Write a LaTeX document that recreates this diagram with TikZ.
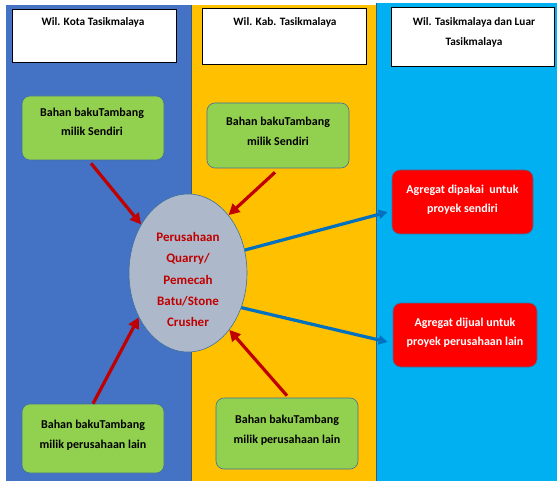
\documentclass[tikz,border=0pt]{standalone}
\usepackage{fontspec}
\setmainfont{Carlito}
\usetikzlibrary{shapes.geometric,arrows.meta,calc}
\definecolor{colblue}{HTML}{4472C4}
\definecolor{colyellow}{HTML}{FFC000}
\definecolor{colcyan}{HTML}{00B0F0}
\definecolor{boxgreen}{HTML}{92D050}
\definecolor{boxred}{HTML}{FF0000}
\definecolor{ellfill}{HTML}{ADB9CA}
\definecolor{darkred}{HTML}{C00000}
\definecolor{arrblue}{HTML}{0070C0}
\definecolor{edgeblue}{HTML}{41719C}
\tikzset{
  hdrbox/.style={draw=black,line width=0.8pt,fill=white,inner sep=0pt},
  hdrtext/.style={font=\bfseries\fontsize{11.3}{20}\selectfont,align=center,inner sep=0pt},
  gbox/.style={draw=edgeblue,line width=0.6pt,fill=boxgreen,rounded corners=8pt,inner sep=0pt},
  rbox/.style={draw=edgeblue,line width=0.6pt,fill=boxred,rounded corners=8pt,inner sep=0pt},
  btext/.style={font=\bfseries\fontsize{12}{19.5}\selectfont,align=center,inner sep=0pt},
  redarrow/.style={draw=darkred,line width=3.2pt,-{Triangle[length=11pt,width=11pt]}},
  bluearrow/.style={draw=arrblue,line width=3.2pt,-{Triangle[length=9pt,width=9pt]}},
}
\begin{document}
\begin{tikzpicture}[x=1pt,y=-1pt]
\useasboundingbox[fill=white] (0,0) rectangle (557,481);
% columns
\fill[colblue] (6,5) rectangle (191,481);
\fill[colyellow] (191,5) rectangle (376,481);
\fill[colcyan] (376,3) rectangle (557,481);
\draw[edgeblue!80!black,line width=0.5pt] (191,5) -- (191,481);
\draw[edgeblue!80!black,line width=0.5pt] (376,3) -- (376,481);
% headers
\node[hdrbox,minimum width=164pt,minimum height=53pt] (h1) at (94,35.5) {};
\node[hdrtext] (h1t) at (93,22) {Wil. Kota Tasikmalaya};
\node[hdrbox,minimum width=164pt,minimum height=56pt] (h2) at (284,36) {};
\node[hdrtext] (h2t) at (285,22) {Wil. Kab. Tasikmalaya};
\node[hdrbox,minimum width=163pt,minimum height=59pt] (h3) at (472.5,36.5) {};
\node[hdrtext] (h3t) at (474,32) {Wil. Tasikmalaya dan Luar\\Tasikmalaya};
% green boxes
\node[gbox,minimum width=142pt,minimum height=64pt] (g1) at (93,128) {};
\node[btext] (g1t) at (92,122) {Bahan bakuTambang\\milik Sendiri};
\node[gbox,minimum width=142pt,minimum height=65pt] (g2) at (278,135.5) {};
\node[btext] (g2t) at (278,131.5) {Bahan bakuTambang\\milik Sendiri};
\node[gbox,minimum width=142pt,minimum height=69pt] (g3) at (93,438.5) {};
\node[btext] (g3t) at (93,435) {Bahan bakuTambang\\milik perusahaan lain};
\node[gbox,minimum width=142pt,minimum height=71pt] (g4) at (287,433.5) {};
\node[btext] (g4t) at (287,430) {Bahan bakuTambang\\milik perusahaan lain};
% red boxes
\node[rbox,minimum width=141pt,minimum height=64pt] (r1) at (462.5,202) {};
\node[btext,text=white] (r1t) at (462.5,199.5) {Agregat dipakai\ \ untuk\\proyek sendiri};
\node[rbox,minimum width=144pt,minimum height=64pt] (r2) at (465,335) {};
\node[btext,text=white] (r2t) at (465,332.5) {Agregat dijual untuk\\proyek perusahaan lain};
% ellipse
\node[ellipse,draw=edgeblue,line width=0.6pt,fill=ellfill,minimum width=118pt,minimum height=158pt,inner sep=0pt] (E) at (188,273) {};
\node[font=\bfseries\fontsize{13}{21.2}\selectfont,text=darkred,align=center,inner sep=0pt] (Et) at (188,279.5) {Perusahaan\\Quarry/\\Pemecah\\Batu/Stone\\Crusher};
% arrows
\draw[redarrow] ($(g1.south)+(-2,3)$) -- (E.134);
\draw[redarrow] ($(g2.south)+(-3,4)$) -- (E.55);
\draw[redarrow] (g3.north) -- (E.222);
\draw[redarrow] ($(g4.north)+(0,-2)$) -- (E.306);
\draw[bluearrow] (E.22) -- ($(r1.west)+(-4,10)$);
\draw[bluearrow] (E.-33) -- ($(r2.west)+(-5,7)$);
\end{tikzpicture}
\end{document}
